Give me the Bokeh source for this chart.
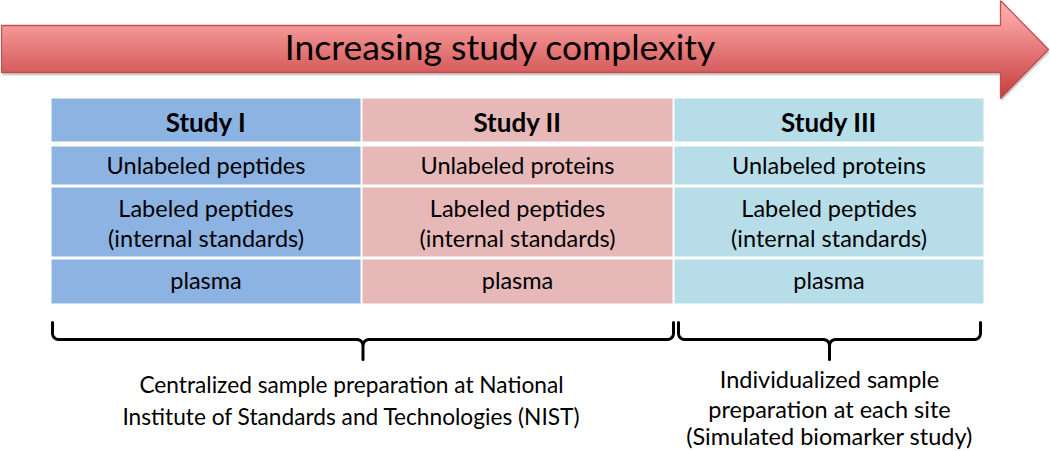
import numpy as np
from bokeh.plotting import figure
from bokeh.models import Range1d
from bokeh.core.properties import value
from bokeh.embed import file_html
from bokeh.resources import INLINE

# ---- content ----
title_text = "Increasing study complexity"
studies = ["Study I", "Study II", "Study III"]
analytes = ["Unlabeled peptides", "Unlabeled proteins", "Unlabeled proteins"]
standards_l1 = ["Labeled peptides", "Labeled peptides", "Labeled peptides"]
standards_l2 = ["(internal standards)", "(internal standards)", "(internal standards)"]
matrices = ["plasma", "plasma", "plasma"]
col_colors = ["#8DB3E2", "#E6B9B8", "#B7DEE8"]
group_lines = [
    ["Centralized sample preparation at National",
     "Institute of Standards and Technologies (NIST)"],
    ["Individualized sample", "preparation at each site", "(Simulated biomarker study)"],
]

# ---- layout (page pixel coordinates) ----
FONT = "Lato"
col_left = [51, 362, 674]
col_right = [360, 672, 983]
row_top = [98, 146, 187, 259]
row_bot = [141, 184, 256, 303]
row_text_y = [121.5, 164.5, 207, 237.5, 279]

p = figure(width=1050, height=451, x_range=Range1d(0, 1050), y_range=Range1d(451, 0),
           output_backend="svg", toolbar_location=None, min_border=0,
           x_axis_location=None, y_axis_location=None)
p.grid.visible = False
p.outline_line_color = None
p.background_fill_color = "white"

# ---- arrow ----
ax0, ax1, atip = 1, 1000, 1048
by0, by1 = 25, 72
hy0, hy1 = 0, 98
hmid = (hy0 + hy1) / 2
outline_x = [ax0, ax1, ax1, atip, ax1, ax1, ax0]
outline_y = [by0, by0, hy0, hmid, hy1, by1, by1]
p.patch([x + 1 for x in outline_x], [y + 3 for y in outline_y], fill_color="#808080",
        fill_alpha=0.35, line_color=None)

def grad(y):
    t = (y - by0) / (by1 - by0)
    c0 = np.array([248, 148, 148])
    c1 = np.array([214, 86, 86])
    c = np.clip(c0 + (c1 - c0) * t, 0, 255).astype(int)
    return "#%02x%02x%02x" % tuple(c)

L, R, T, B, C = [], [], [], [], []
for y in np.arange(hy0, hy1, 1.0):
    ym = y + 0.5
    xe = ax1 + (atip - ax1) * (1 - abs(ym - hmid) / (hmid - hy0))
    xl = ax0 if by0 <= ym <= by1 else ax1
    L.append(xl); R.append(xe); T.append(y); B.append(y + 1); C.append(grad(ym))
p.quad(left=L, right=R, top=T, bottom=B, fill_color=C, line_color=C, line_width=0.5)
p.patch(outline_x, outline_y, fill_color=None, line_color="#C0504D", line_width=1.3)
p.text(x=[500], y=[45.5], text=[title_text], text_font=value(FONT),
       text_font_size="35.5px", text_align="center", text_baseline="middle",
       text_color="black")

# ---- table ----
for ci in range(3):
    p.quad(left=[col_left[ci]] * 4, right=[col_right[ci]] * 4, top=row_top, bottom=row_bot,
           fill_color=col_colors[ci], line_color=None)
cx = [(a + b) / 2 for a, b in zip(col_left, col_right)]
p.text(x=cx, y=[row_text_y[0]] * 3, text=studies, text_font=value(FONT),
       text_font_style="bold", text_font_size="26px", text_align="center",
       text_baseline="middle", text_color="black")
for k, rows in enumerate([analytes, standards_l1, standards_l2, matrices]):
    p.text(x=cx, y=[row_text_y[k + 1]] * 3, text=rows, text_font=value(FONT),
           text_font_size="23.5px", text_align="center", text_baseline="middle",
           text_color="black")

# ---- braces ----
def qbez(p0, p1, p2, n=12):
    t = np.linspace(0, 1, n)
    x = (1 - t) ** 2 * p0[0] + 2 * (1 - t) * t * p1[0] + t ** 2 * p2[0]
    y = (1 - t) ** 2 * p0[1] + 2 * (1 - t) * t * p1[1] + t ** 2 * p2[1]
    return list(x), list(y)

def brace(x0, x1, ytop=322, yh=339, ytip=359, r=7):
    xm = (x0 + x1) / 2
    xs, ys = [x0], [ytop]
    for seg in [((x0, yh - r), (x0, yh), (x0 + r, yh)),
                ((xm - r, yh), (xm, yh), (xm, yh + r))]:
        bx, by = qbez(*seg)
        xs += bx; ys += by
    xs += [xm]; ys += [ytip]
    xs += [np.nan]; ys += [np.nan]
    xs += [x1]; ys += [ytop]
    for seg in [((x1, yh - r), (x1, yh), (x1 - r, yh)),
                ((xm + r, yh), (xm, yh), (xm, yh + r))]:
        bx, by = qbez(*seg)
        xs += bx; ys += by
    return xs, ys, xm

brace_x = [(52, 673), (678, 980)]
text_x = [351, 829]
text_y = [[384, 416], [378.5, 408, 435.5]]
text_size = ["22.7px", "23.5px"]
for gi, (a, b) in enumerate(brace_x):
    xs, ys, xm = brace(a, b)
    p.line(xs, ys, line_color="black", line_width=3, line_join="round", line_cap="round")
    lines = group_lines[gi]
    p.text(x=[text_x[gi]] * len(lines), y=text_y[gi], text=lines, text_font=value(FONT),
           text_font_size=text_size[gi], text_align="center", text_baseline="middle",
           text_color="black")

open("out.html", "w").write(file_html(p, INLINE))
